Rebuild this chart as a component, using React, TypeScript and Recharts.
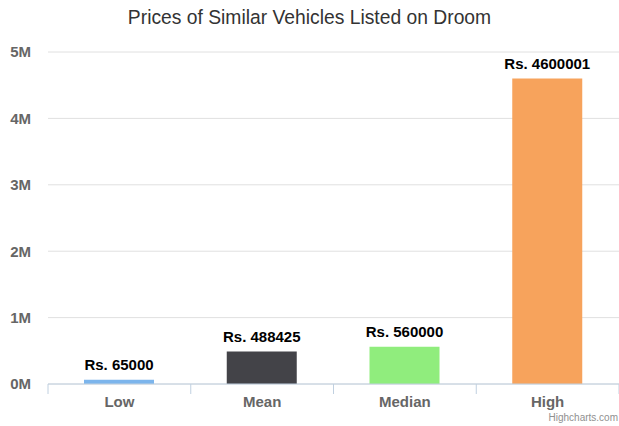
import { BarChart, Bar, XAxis, YAxis, CartesianGrid, Cell, LabelList } from "recharts"

// categories and values
const categories = ["Low", "Mean", "Median", "High"]
const prices = [65000, 488425, 560000, 4600001]
const barColors = ["#7cb5ec", "#434348", "#90ed7d", "#f7a35c"]
const yTicks = [0, 1000000, 2000000, 3000000, 4000000, 5000000]

const data = categories.map((name, i) => ({ name, price: prices[i] }))

const FONT = "'Liberation Sans', Arial, Helvetica, sans-serif"

// Highcharts-like category tick: line at the band edges, label centred
const CategoryTick = (props: any) => {
  const { x, y, payload, index, visibleTicksCount } = props
  const half = payload && payload.offset ? payload.offset : 71.4
  const last = index === (visibleTicksCount || categories.length) - 1
  return (
    <g>
      <line x1={x - half} x2={x - half} y1={y} y2={y + 10} stroke="#c0d0e0" />
      {last && <line x1={x + half} x2={x + half} y1={y} y2={y + 10} stroke="#c0d0e0" />}
      <text
        x={x}
        y={y + 23}
        textAnchor="middle"
        fill="#666666"
        fontSize={15}
        fontWeight="bold"
        fontFamily={FONT}
      >
        {payload.value}
      </text>
    </g>
  )
}

// data label above each bar, no wrapping
const PriceLabel = (props: any) => {
  const { x, y, width, value } = props
  return (
    <text
      x={Number(x) + Number(width) / 2}
      y={Number(y) - 10}
      textAnchor="middle"
      fill="#000"
      fontSize={15}
      fontWeight="bold"
      fontFamily={FONT}
    >
      {`Rs. ${value}`}
    </text>
  )
}

export default function App() {
  return (
    <div
      style={{
        position: "absolute",
        left: 0,
        top: 0,
        width: 619,
        height: 426,
        background: "#fff",
        fontFamily: FONT,
      }}
    >
      <div
        style={{
          position: "absolute",
          top: 6,
          width: 619,
          textAlign: "center",
          fontSize: 19.3,
          color: "#333333",
          lineHeight: "24px",
        }}
      >
        Prices of Similar Vehicles Listed on Droom
      </div>
      <BarChart
        width={619}
        height={426}
        data={data}
        margin={{ top: 52, right: 0, left: 0, bottom: 0 }}
      >
        <CartesianGrid vertical={false} stroke="#e0e0e0" />
        <XAxis
          dataKey="name"
          height={42}
          tickSize={0}
          tickMargin={0}
          axisLine={{ stroke: "#c0d0e0" }}
          tickLine={false}
          tick={<CategoryTick />}
          interval={0}
        />
        <YAxis
          width={48}
          domain={[0, 5000000]}
          ticks={yTicks}
          axisLine={false}
          tickLine={false}
          tickMargin={11}
          tickFormatter={(v: number) => `${v / 1000000}M`}
          tick={{ fill: "#666666", fontSize: 15, fontWeight: "bold", fontFamily: FONT }}
        />
        <Bar dataKey="price" barSize={70} isAnimationActive={false}>
          {data.map((d, i) => (
            <Cell key={d.name} fill={barColors[i]} />
          ))}
          <LabelList dataKey="price" content={<PriceLabel />} />
        </Bar>
      </BarChart>
      <div
        style={{
          position: "absolute",
          right: 1,
          top: 412,
          fontSize: 10,
          color: "#909090",
        }}
      >
        Highcharts.com
      </div>
    </div>
  )
}
